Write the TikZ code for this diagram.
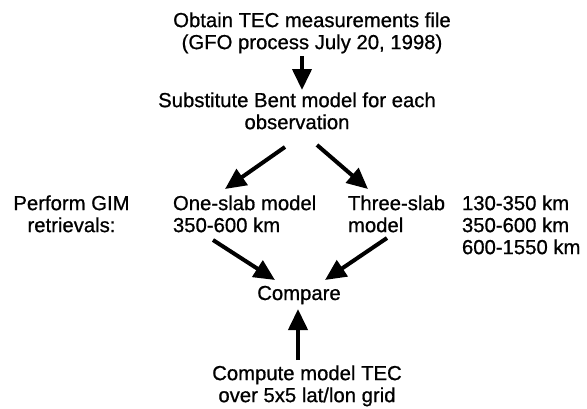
\documentclass[tikz,border=0pt]{standalone}
\usepackage{fontspec}
\setmainfont{Liberation Sans}
\newfontfamily\heavyfont{Liberation Sans}[FakeBold=0.8]
\usetikzlibrary{arrows.meta}
\tikzset{
  txt/.style={inner sep=0pt, outer sep=0pt, font=\heavyfont\fontsize{20.3pt}{22pt}\selectfont},
  arr/.style={line width=4pt, -{Triangle[length=21pt,width=19pt]}}
}
\begin{document}
\begin{tikzpicture}[x=1pt,y=-1pt]
\useasboundingbox (0,0) rectangle (587,408);
\node[txt, align=center, anchor=north] (obtain) at (312,12.4) {Obtain TEC measurements file\\(GFO process July 20, 1998)};
\node[txt, align=center, anchor=north] (subst) at (297,92.4) {Substitute Bent model for each\\observation};
\node[txt, align=center, anchor=north] (perform) at (71.5,195.4) {Perform GIM\\retrievals:};
\node[txt, align=left, anchor=north west] (one) at (173,195.4) {One-slab model\\350-600 km};
\node[txt, align=left, anchor=north west] (three) at (348,195.4) {Three-slab\\model};
\node[txt, align=left, anchor=north west] (km) at (462,195.4) {130-350 km\\350-600 km\\600-1550 km};
\node[txt, anchor=base] (compare) at (299,300) {Compare};
\node[txt, align=center, anchor=north] (compute) at (307,365.4) {Compute model TEC\\over 5x5 lat/lon grid};
\coordinate (a1s) at (302,56);  \coordinate (a1e) at (302,90);
\coordinate (a2s) at (285,147); \coordinate (a2e) at (225,189);
\coordinate (a3s) at (317,145); \coordinate (a3e) at (368,189);
\coordinate (a4s) at (213,240); \coordinate (a4e) at (275,280);
\coordinate (a5s) at (387,238); \coordinate (a5e) at (325,280);
\coordinate (a6s) at (298,360); \coordinate (a6e) at (298,309);
\draw[arr] (a1s) -- (a1e);
\draw[arr] (a2s) -- (a2e);
\draw[arr] (a3s) -- (a3e);
\draw[arr] (a4s) -- (a4e);
\draw[arr] (a5s) -- (a5e);
\draw[arr] (a6s) -- (a6e);
\end{tikzpicture}
\end{document}
